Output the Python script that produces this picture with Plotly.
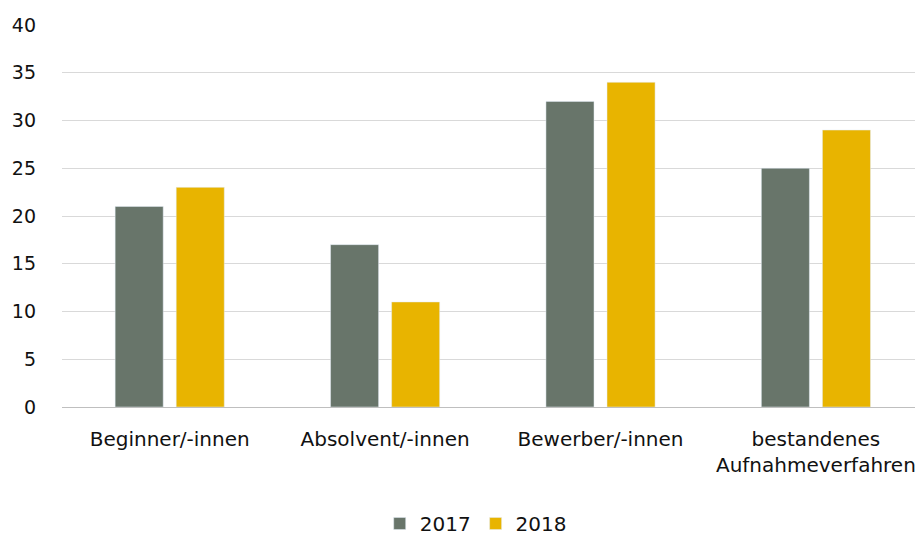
import plotly.graph_objects as go

categories = ["Beginner/-innen", "Absolvent/-innen", "Bewerber/-innen", "bestandenes<br>Aufnahmeverfahren"]
values_2017 = [21, 17, 32, 25]
values_2018 = [23, 11, 34, 29]
series_names = ["2017", "2018"]
y_ticks = [0, 5, 10, 15, 20, 25, 30, 35, 40]

fig = go.Figure()
fig.add_trace(go.Bar(x=categories, y=values_2017, name=series_names[0], marker_color="#68756a"))
fig.add_trace(go.Bar(x=categories, y=values_2018, name=series_names[1], marker_color="#e8b400"))

fig.update_layout(
    width=915, height=538,
    margin=dict(l=62, r=0, t=25, b=131),
    plot_bgcolor="white", paper_bgcolor="white",
    font=dict(family="DejaVu Sans", size=19, color="#111111"),
    barmode="group", bargap=0.433, bargroupgap=0.213,
    showlegend=True,
    legend=dict(orientation="h", x=0.485, xanchor="center", yref="container",
                y=0.027, yanchor="middle", font=dict(size=20), traceorder="normal"),
    xaxis=dict(range=[-0.5, 3.46], showgrid=False, showline=False, ticks="",
               automargin=False, ticklabelstandoff=18, tickfont=dict(size=20)),
    yaxis=dict(range=[0, 40], tickvals=y_ticks, showgrid=True, gridcolor="#d9d9d9",
               gridwidth=1, zeroline=True, zerolinecolor="#bfbfbf", zerolinewidth=1,
               automargin=False, ticks="", ticklabelstandoff=25, tickfont=dict(size=19)),
)

fig.write_html("out.html", config={"displayModeBar": False},
               post_script="document.body.style.margin='0';document.body.style.overflow='hidden';")
